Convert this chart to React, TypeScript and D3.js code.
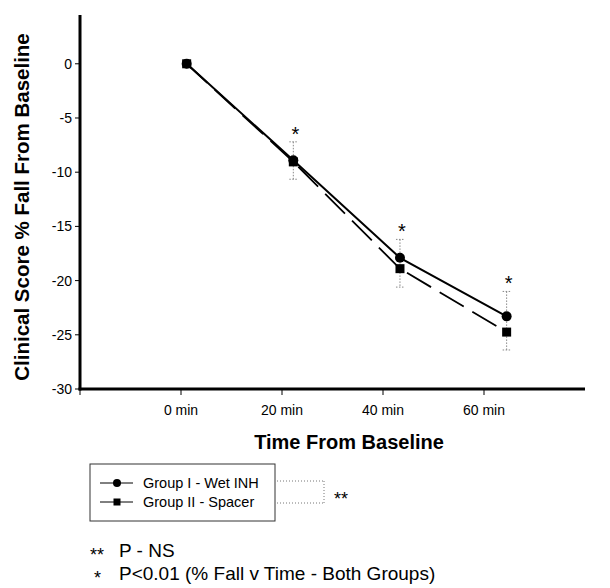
import React from "react";
import * as d3 from "d3";

const times = [0, 20, 40, 60];
const axisTicks = [-20, 0, 20, 40, 60];
const axisTickLabels = ["", "0 min", "20 min", "40 min", "60 min"];
const yTicks = [0, -5, -10, -15, -20, -25, -30];
const groupI = [0, -8.9, -17.9, -23.3];
const groupII = [0, -9.05, -18.9, -24.75];
const groupIErrUp = [0, 1.7, 1.7, 2.3];
const groupIIErrDown = [0, 1.6, 1.7, 1.65];
const significant = [false, true, true, true];
const legendLabels = ["Group I - Wet INH", "Group II - Spacer"];
const footnotes = [
  { mark: "**", text: "P - NS" },
  { mark: "*", text: "P<0.01 (% Fall v Time - Both Groups)" },
];

const FONT = "'Liberation Sans', Arial, Helvetica, sans-serif";

export default function App() {
  const W = 610, H = 588;
  const x0 = 80, yBase = 389;
  // axis scale (ticks/labels) and data scale (marker positions, as in the scan)
  const xAxis = d3.scaleLinear().domain([-20, 80]).range([x0, 585]);
  const xData = d3.scaleLinear().domain([-20, 80]).range([x0, 613.3]);
  const y = d3.scaleLinear().domain([-30, 4.5]).range([yBase, 15]);

  const lineGen = d3
    .line<number>()
    .x((_, i) => xData(times[i]))
    .y((d) => y(d));

  const capW = 4;

  return (
    <svg
      width={W}
      height={H}
      style={{ position: "absolute", left: 0, top: 0, display: "block", background: "#fff" }}
      fontFamily={FONT}
    >
      <rect x={0} y={0} width={W} height={H} fill="#fff" />

      {/* error bars */}
      {times.map((t, i) => {
        if (!significant[i]) return null;
        const cx = xData(t);
        const top = y(groupI[i] + groupIErrUp[i]);
        const bot = y(groupII[i] - groupIIErrDown[i]);
        return (
          <g key={"eb" + i} stroke="#888" strokeWidth={1} strokeDasharray="1.5,1.5" fill="none">
            <line x1={cx} x2={cx} y1={top} y2={bot} />
            <line x1={cx - capW} x2={cx + capW} y1={top} y2={top} />
            <line x1={cx - capW} x2={cx + capW} y1={bot} y2={bot} />
          </g>
        );
      })}

      {/* series lines */}
      <path d={lineGen(groupII) || ""} fill="none" stroke="#000" strokeWidth={1.8} strokeDasharray="28,10" />
      <path d={lineGen(groupI) || ""} fill="none" stroke="#000" strokeWidth={2} />

      {/* markers */}
      {groupII.map((v, i) => (
        <rect key={"sq" + i} x={xData(times[i]) - 4.5} y={y(v) - 4.5} width={9} height={9} fill="#000" />
      ))}
      {groupI.map((v, i) => (
        <circle key={"c" + i} cx={xData(times[i])} cy={y(v)} r={5} fill="#000" />
      ))}

      {/* significance stars */}
      {times.map((t, i) =>
        significant[i] ? (
          <text
            key={"st" + i}
            x={xData(t) + 2}
            y={y(groupI[i] + groupIErrUp[i]) - 12 + 11}
            fontSize={20}
            textAnchor="middle"
            fill="#000"
          >
            *
          </text>
        ) : null
      )}

      {/* y axis */}
      <line x1={x0} x2={x0} y1={y(4.5)} y2={yBase + 1.5} stroke="#000" strokeWidth={3} />
      {yTicks.map((v) => (
        <g key={"yt" + v}>
          <line x1={x0 - 5} x2={x0} y1={y(v)} y2={y(v)} stroke="#000" strokeWidth={1} />
          <text x={x0 - 8} y={y(v)} dy="0.36em" fontSize={14} textAnchor="end" fill="#000">
            {v}
          </text>
        </g>
      ))}

      {/* x axis */}
      <line x1={x0 - 1.5} x2={xAxis(80)} y1={yBase} y2={yBase} stroke="#000" strokeWidth={3} />
      {axisTicks.map((t, i) => (
        <g key={"xt" + t}>
          <line x1={xAxis(t)} x2={xAxis(t)} y1={yBase} y2={yBase + 6} stroke="#000" strokeWidth={1} />
          <text x={xAxis(t)} y={yBase + 26} fontSize={14} textAnchor="middle" fill="#000">
            {axisTickLabels[i]}
          </text>
        </g>
      ))}

      {/* axis titles */}
      <text x={349} y={449} fontSize={20} fontWeight="bold" textAnchor="middle" fill="#000">
        Time From Baseline
      </text>
      <text
        transform={`translate(29, ${207}) rotate(-90)`}
        fontSize={20.5}
        fontWeight="bold"
        textAnchor="middle"
        fill="#000"
      >
        Clinical Score % Fall From Baseline
      </text>

      {/* legend */}
      <rect x={90} y={464} width={185} height={57} fill="#fff" stroke="#333" strokeWidth={1} />
      {legendLabels.map((lab, i) => {
        const ly = 483 + i * 19;
        return (
          <g key={"lg" + i}>
            <line x1={100} x2={133} y1={ly} y2={ly} stroke="#000" strokeWidth={1} />
            {i === 0 ? (
              <circle cx={117} cy={ly} r={4} fill="#000" />
            ) : (
              <rect x={113.5} y={ly - 3.5} width={7} height={7} fill="#000" />
            )}
            <text x={143} y={ly} dy="0.36em" fontSize={14.5} fill="#000">
              {lab}
            </text>
          </g>
        );
      })}
      <g stroke="#777" strokeWidth={1} strokeDasharray="1,2" fill="none">
        <line x1={277} x2={324} y1={481} y2={481} />
        <line x1={277} x2={324} y1={503} y2={503} />
        <line x1={324} x2={324} y1={481} y2={503} />
      </g>
      <text x={334} y={505} fontSize={18} fill="#000">
        **
      </text>

      {/* footnotes */}
      {footnotes.map((f, i) => (
        <g key={"fn" + i}>
          <text x={i === 0 ? 90 : 94} y={i === 0 ? 561 : 584} fontSize={18} fill="#000">
            {f.mark}
          </text>
          <text x={119} y={557 + i * 23} fontSize={19} fill="#000">
            {f.text}
          </text>
        </g>
      ))}
    </svg>
  );
}
